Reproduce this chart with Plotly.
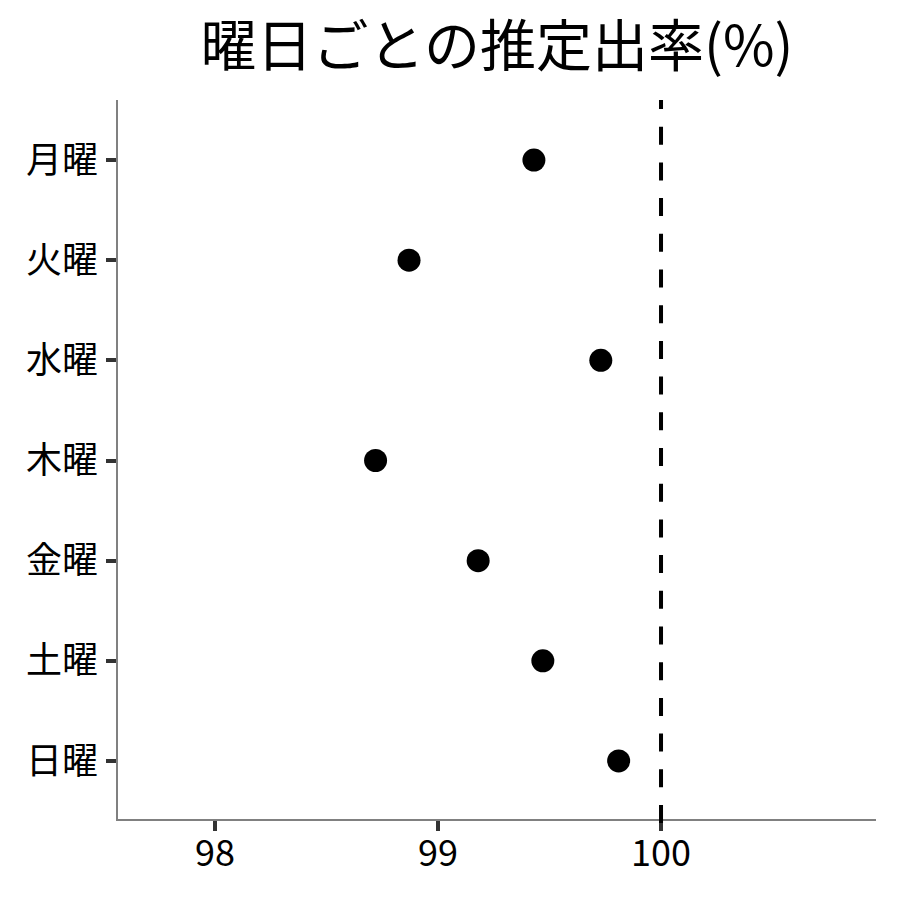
import plotly.graph_objects as go

# 曜日ごとの推定出率
days = ['月曜', '火曜', '水曜', '木曜', '金曜', '土曜', '日曜']
rates = [99.43, 98.87, 99.73, 98.72, 99.18, 99.47, 99.81]
x_ticks = [98, 99, 100]
ref_value = 100

font_family = 'Noto Sans CJK JP'

# page body adds 8px on each side, so keep the figure inside the window
fig_w, fig_h = 884, 884
m_l, m_r, m_t, m_b = 110, 16, 92, 73
plot_h = fig_h - m_t - m_b

fig = go.Figure()
fig.add_scatter(
    x=rates,
    y=days,
    mode='markers',
    marker=dict(color='black', size=23),
    showlegend=False,
)

# reference line at 100%
fig.add_shape(
    type='line',
    xref='x', yref='paper',
    x0=ref_value, x1=ref_value,
    y0=-4 / plot_h, y1=1,
    line=dict(color='black', width=4, dash='18px,17.7px'),
)

fig.update_layout(
    width=fig_w,
    height=fig_h,
    plot_bgcolor='white',
    paper_bgcolor='white',
    font=dict(family=font_family, color='black'),
    title=dict(
        text='曜日ごとの推定出率(%)',
        x=(m_l + (fig_w - m_r)) / 2 / fig_w,
        xanchor='center',
        y=1 - 38 / fig_h,
        yanchor='middle',
        font=dict(size=56, color='black'),
    ),
    margin=dict(l=m_l, r=m_r, t=m_t, b=m_b),
)
fig.update_xaxes(
    range=[97.565, 100.964],
    tickvals=x_ticks,
    ticks='outside',
    ticklen=10,
    tickwidth=4,
    tickcolor='#333333',
    ticklabelstandoff=-8,
    showline=True,
    linecolor='#808080',
    linewidth=1.5,
    showgrid=False,
    zeroline=False,
    tickfont=dict(size=36, color='black'),
)
fig.update_yaxes(
    categoryorder='array',
    categoryarray=days,
    autorange=False,
    range=[6.58, -0.6],
    ticks='outside',
    ticklen=10,
    tickwidth=4,
    tickcolor='#333333',
    ticklabelstandoff=1,
    showline=True,
    linecolor='#808080',
    linewidth=1.5,
    showgrid=False,
    zeroline=False,
    tickfont=dict(size=36, color='black'),
)

fig.write_html('out.html')
